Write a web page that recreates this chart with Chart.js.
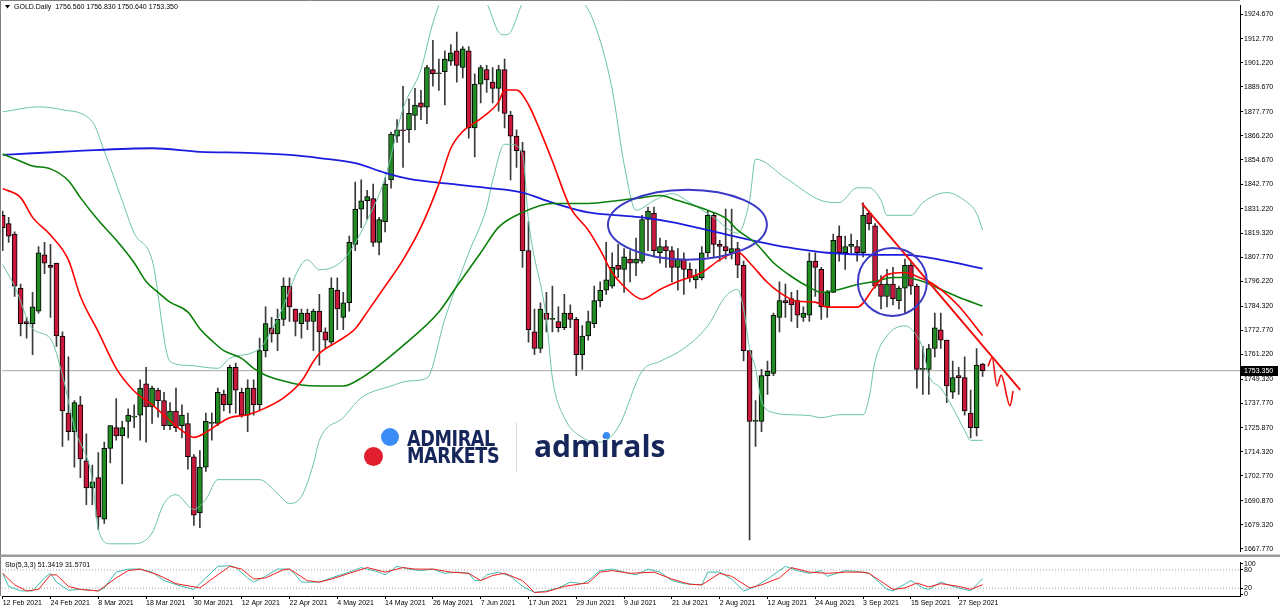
<!DOCTYPE html>
<html>
<head>
<meta charset="utf-8">
<title>GOLD.Daily</title>
<script src="https://cdn.jsdelivr.net/npm/chart.js@4.4.1/dist/chart.umd.min.js"></script>
<style>
  html, body { margin: 0; padding: 0; background: #fff; }
  #wrap { position: relative; width: 1280px; height: 611px; overflow: hidden; }
  canvas { position: absolute; left: 0; }
  #main { top: 0; }
  #sto { top: 557px; }
  .dot { position: absolute; border-radius: 50%; }
  .am { position: absolute; left: 407px; top: 430px; font-family: "DejaVu Sans"; font-weight: bold; font-size: 22px;
        line-height: 17px; color: #17265a; letter-spacing: -0.5px; transform: scaleX(0.8); transform-origin: 0 0; }
  .adm { position: absolute; left: 534px; top: 425px; font-family: "Open Sans"; font-weight: 700; font-size: 30px;
         line-height: normal; color: #17265a; }
  .divider { position: absolute; left: 516px; top: 422px; width: 1px; height: 50px; background: #dcdcdc; }
</style>
</head>
<body>
<div id="wrap">
  <canvas id="main" width="1280" height="557"></canvas>
  <canvas id="sto" width="1280" height="54"></canvas>
  <span class="dot" style="left:381px;top:428px;width:18px;height:18px;background:#3b8cf6"></span>
  <span class="dot" style="left:364px;top:447px;width:19px;height:19px;background:#e01e2d"></span>
  <div class="am">ADMIRAL<br>MARKETS</div>
  <div class="divider"></div>
  <div class="adm">admirals</div>
  <span class="dot" style="left:603px;top:432px;width:7px;height:7px;background:#3b8cf6"></span>
</div>
<script>
// x axis labels, one every 8 daily bars starting at bar 0
var dateLabels = ["12 Feb 2021", "24 Feb 2021", "8 Mar 2021", "18 Mar 2021", "30 Mar 2021", "12 Apr 2021",
  "22 Apr 2021", "4 May 2021", "14 May 2021", "26 May 2021", "7 Jun 2021", "17 Jun 2021", "29 Jun 2021",
  "9 Jul 2021", "21 Jul 2021", "2 Aug 2021", "12 Aug 2021", "24 Aug 2021", "3 Sep 2021", "15 Sep 2021", "27 Sep 2021"];
var barsPerLabel = 8;

// right axis price labels
var priceTicks = [1924.67, 1912.77, 1901.22, 1889.67, 1877.77, 1866.22, 1854.67, 1842.77, 1831.22, 1819.32,
  1807.77, 1796.22, 1784.32, 1772.77, 1761.22, 1749.32, 1737.77, 1725.87, 1714.32, 1702.77, 1690.87, 1679.32, 1667.77];
var stochTicks = [0, 20, 80, 100];
var stochLevels = [20, 80];

// daily candles, 12 Feb 2021 .. 1 Oct 2021
var opens = [1828, 1824, 1819, 1793, 1777, 1776, 1782, 1809, 1804, 1805,
  1770, 1733, 1724, 1737, 1710, 1697, 1702, 1682, 1716, 1726,
  1722, 1729, 1731, 1732, 1747, 1736, 1744, 1739, 1727, 1734,
  1727, 1728, 1712, 1685, 1707, 1728, 1728, 1742, 1737, 1755,
  1743, 1732, 1745, 1737, 1763, 1774, 1771, 1778, 1794, 1783,
  1776, 1781, 1777, 1782, 1772, 1767, 1792, 1779, 1786, 1814,
  1831, 1835, 1836, 1815, 1825, 1845, 1866, 1869, 1869, 1876,
  1882, 1880, 1898, 1896, 1897, 1902, 1907, 1899, 1907, 1870,
  1891, 1898, 1892, 1889, 1898, 1876, 1866, 1859, 1811, 1772,
  1764, 1781, 1778, 1777, 1774, 1781, 1778, 1761, 1770, 1776,
  1787, 1792, 1794, 1804, 1802, 1807, 1805, 1806, 1826, 1829,
  1810, 1813, 1811, 1803, 1807, 1802, 1797, 1798, 1810, 1828,
  1814, 1813, 1810, 1812, 1804, 1763, 1729, 1729, 1751, 1752,
  1779, 1787, 1788, 1787, 1779, 1780, 1806, 1802, 1784, 1791,
  1818, 1810, 1813, 1813, 1810, 1829, 1823, 1795, 1789, 1795,
  1787, 1793, 1804, 1794, 1754, 1754, 1764, 1773, 1768, 1743,
  1751, 1750, 1733, 1726, 1756.56];
var highs = [1830, 1827, 1820, 1795, 1779, 1791, 1813, 1815, 1814, 1805,
  1772, 1760, 1739, 1741, 1723, 1708, 1714, 1719, 1727, 1740,
  1729, 1735, 1737, 1749, 1755, 1746, 1745, 1743, 1738, 1745,
  1737, 1733, 1713, 1715, 1733, 1733, 1745, 1744, 1756, 1757,
  1745, 1749, 1749, 1769, 1784, 1779, 1783, 1798, 1798, 1783,
  1783, 1783, 1783, 1790, 1774, 1798, 1798, 1791, 1818, 1844,
  1845, 1840, 1843, 1827, 1846, 1868, 1874, 1890, 1884, 1889,
  1888, 1900, 1912, 1903, 1907, 1910, 1916, 1909, 1909, 1896,
  1900, 1900, 1899, 1900, 1903, 1878, 1869, 1863, 1825, 1783,
  1786, 1791, 1794, 1784, 1790, 1785, 1779, 1775, 1782, 1794,
  1796, 1815, 1810, 1814, 1812, 1811, 1817, 1828, 1832, 1832,
  1817, 1816, 1813, 1812, 1810, 1805, 1802, 1813, 1830, 1829,
  1816, 1831, 1831, 1815, 1806, 1763, 1739, 1754, 1758, 1781,
  1796, 1795, 1791, 1792, 1784, 1810, 1810, 1803, 1792, 1819,
  1823, 1818, 1819, 1816, 1834, 1830, 1824, 1799, 1802, 1803,
  1794, 1807, 1806, 1795, 1765, 1766, 1781, 1781, 1768, 1758,
  1755, 1760, 1744, 1764, 1756.83];
var lows = [1811, 1815, 1789, 1770, 1769, 1761, 1781, 1800, 1779, 1765,
  1717, 1720, 1707, 1702, 1689, 1689, 1677, 1680, 1709, 1720,
  1699, 1721, 1726, 1720, 1719, 1728, 1731, 1725, 1725, 1724,
  1721, 1706, 1679, 1678, 1705, 1720, 1727, 1734, 1733, 1733,
  1731, 1724, 1732, 1734, 1760, 1767, 1763, 1775, 1777, 1770,
  1769, 1773, 1763, 1756, 1764, 1766, 1773, 1773, 1782, 1811,
  1822, 1826, 1813, 1809, 1820, 1841, 1863, 1851, 1863, 1869,
  1874, 1872, 1890, 1888, 1881, 1900, 1892, 1894, 1865, 1856,
  1882, 1887, 1882, 1878, 1870, 1845, 1851, 1803, 1767, 1761,
  1762, 1772, 1772, 1772, 1773, 1774, 1751, 1754, 1768, 1774,
  1784, 1790, 1793, 1798, 1791, 1796, 1799, 1805, 1811, 1808,
  1805, 1803, 1796, 1792, 1790, 1796, 1793, 1797, 1808, 1808,
  1806, 1807, 1807, 1798, 1758, 1672, 1717, 1724, 1742, 1751,
  1772, 1779, 1777, 1774, 1777, 1777, 1789, 1778, 1779, 1791,
  1806, 1802, 1810, 1806, 1808, 1821, 1793, 1783, 1784, 1785,
  1783, 1781, 1790, 1745, 1742, 1742, 1760, 1764, 1738, 1740,
  1742, 1732, 1721, 1722, 1750.64];
var closes = [1822, 1818, 1794, 1776, 1776, 1784, 1810, 1805, 1803, 1770,
  1734, 1724, 1738, 1711, 1697, 1700, 1683, 1716, 1727, 1722,
  1726, 1732, 1731.5, 1745, 1736, 1745, 1739, 1727, 1734, 1726,
  1732, 1712, 1684, 1707, 1729, 1728.5, 1743, 1737, 1755, 1744,
  1732, 1745, 1737, 1763, 1776, 1771, 1778, 1794, 1784, 1777,
  1781, 1777, 1782, 1772, 1768, 1793, 1783, 1786, 1815, 1831,
  1835, 1837, 1815, 1826, 1843, 1867, 1869, 1868.5, 1877, 1881,
  1880, 1899, 1896, 1896.5, 1903, 1906, 1900, 1908, 1870, 1891,
  1899, 1893, 1889, 1898, 1877, 1866, 1859, 1811, 1773, 1764,
  1783, 1778, 1778.5, 1774, 1781, 1778, 1761, 1770, 1777, 1787,
  1792, 1797, 1803, 1802, 1808, 1805, 1807, 1826, 1830, 1811,
  1813, 1811, 1803, 1807, 1802, 1798, 1799, 1810, 1828, 1814,
  1813, 1811, 1812, 1804, 1763, 1729, 1729.5, 1751, 1753, 1780,
  1787, 1786, 1785, 1780, 1781, 1806, 1803, 1784, 1791, 1816,
  1810, 1813, 1814, 1810, 1828, 1824, 1794, 1789, 1795, 1788,
  1793, 1804, 1794, 1754, 1754.5, 1764, 1774, 1768, 1746, 1750,
  1750, 1734, 1726, 1756, 1753.35];

// indicator lines as [bar, value]
var ma20 = [[0, 1840.8], [3, 1836.5], [5, 1827], [8, 1818.5], [11, 1806.6], [13, 1789.1], [16, 1772], [19, 1754.5],
  [22, 1743.6], [25, 1737], [28, 1729.4], [30, 1724.6], [32, 1721.3], [34, 1723.7], [36, 1727.5], [38, 1730.8],
  [41, 1732.2], [44, 1735.5], [47, 1740.3], [50, 1748.3], [52, 1757.8], [53, 1761.6], [56, 1767.3], [59, 1773.5],
  [61, 1781.5], [64, 1793.9], [67, 1806.6], [70, 1822.3], [73, 1843.1], [75, 1860.2], [77, 1868.3], [80, 1874.4],
  [83, 1882.5], [84, 1888.2], [86, 1888.2], [88, 1881.1], [90, 1868.3], [92, 1854], [95, 1831.8], [98, 1820.9],
  [100, 1811.4], [102, 1800.5], [104, 1793.8], [107, 1787.7], [110, 1792.4], [113, 1796.2], [117, 1800.5],
  [120, 1806.6], [123, 1810.4], [125, 1805.2], [128, 1795.7], [130, 1791], [133, 1786.7], [136, 1786.3],
  [138, 1783.9], [143, 1783.9], [146, 1793.9], [148, 1799.5], [151, 1800.5], [153, 1798.6], [155, 1796.2],
  [157, 1792.4], [160, 1784.4], [164, 1770.2]];
var ma50 = [[0, 1857.4], [3, 1854], [5, 1851.7], [8, 1850.3], [11, 1844.6], [13, 1836.5], [16, 1825.6], [19, 1816.1],
  [22, 1805.2], [24, 1796.2], [26, 1791], [28, 1786.3], [31, 1781.5], [33, 1773.5], [35, 1767.8], [37, 1763],
  [40, 1759.3], [42, 1754.5], [44, 1751.2], [47, 1748.4], [50, 1746.5], [53, 1746], [57, 1746], [60, 1749.8],
  [67, 1765.4], [73, 1781.5], [76, 1793.9], [80, 1810], [83, 1822.3], [87, 1829.4], [92, 1833.7], [98, 1833.7],
  [103, 1835.1], [107, 1836.5], [110, 1837.5], [113, 1835.1], [118, 1830.4], [121, 1826.6], [123, 1820.9],
  [126, 1814.7], [129, 1805.2], [132, 1798.6], [135, 1793.4], [137, 1791], [140, 1792.4], [143, 1794.8],
  [146, 1796.2], [149, 1798.1], [151, 1798.1], [154, 1796.2], [157, 1792.4], [160, 1788.6], [164, 1784.4]];
var ma200 = [[0, 1857], [5, 1857.8], [12, 1858.8], [25, 1860.2], [33, 1858.5], [41, 1858], [48, 1857], [53, 1855.5],
  [59, 1853.1], [64, 1848.4], [68, 1845.5], [75, 1843.1], [81, 1841.2], [87, 1838.9], [92, 1834.1], [98, 1829.4],
  [103, 1828], [107, 1827], [112, 1824.7], [118, 1820.9], [123, 1817.5], [129, 1813.8], [132, 1812.3], [138, 1810],
  [146, 1809], [151, 1809], [157, 1806.6], [164, 1802.4]];
var bbUpper = [[0, 1877.7], [6, 1880.1], [10, 1878.7], [15, 1873], [17, 1858.8], [20, 1835.1], [22, 1819.4],
  [25, 1806.6], [28, 1757.8], [31, 1755.9], [36, 1754.5], [38, 1759.3], [43, 1764], [46, 1778.2], [51, 1806.6],
  [53, 1801.9], [57, 1806.6], [61, 1825.6], [64, 1846], [67, 1879.2], [70, 1898.1], [72, 1920.4], [74, 1935],
  [78, 1942], [81, 1930], [83, 1916], [84, 1914.7], [85, 1916], [87, 1930], [92, 1945], [96, 1935], [99, 1920.4],
  [102, 1888.6], [104, 1852.6], [106, 1830.4], [109, 1835.1], [112, 1838.4], [115, 1834.1], [119, 1827],
  [123, 1819.4], [125, 1835.1], [126, 1855], [131, 1846], [137, 1835.1], [140, 1834.1], [143, 1841.2],
  [145, 1841.2], [147, 1835.1], [148, 1828], [152, 1828], [154, 1834.1], [158, 1838.9], [161, 1835.1],
  [163, 1828.9], [164, 1820.9]];
var bbLower = [[0, 1804.3], [2, 1793.9], [5, 1773.5], [8, 1768.7], [10, 1751.2], [12, 1726.1], [15, 1701],
  [16, 1677.3], [18, 1670.2], [22, 1670.2], [25, 1675.4], [27, 1689.6], [29, 1693.8], [32, 1686.7], [34, 1691.5],
  [36, 1701], [43, 1701], [46, 1694.3], [48, 1689.6], [50, 1692.9], [52, 1708.5], [53, 1719.9], [57, 1730.8],
  [60, 1740.3], [65, 1746], [68, 1748.4], [71, 1749.8], [74, 1778.2], [78, 1810], [81, 1831.8], [82, 1844.6],
  [84, 1862.1], [85, 1862.1], [87, 1857.4], [88, 1825.6], [91, 1778.2], [92, 1749.8], [94, 1730.8], [97, 1721.3],
  [100, 1719], [103, 1726.1], [107, 1753.1], [110, 1757.8], [114, 1764], [118, 1774.9], [121, 1789.1],
  [123, 1792.4], [124, 1783], [125, 1764], [126, 1754.5], [127, 1738.9], [129, 1733.2], [132, 1732.2],
  [135, 1731.8], [137, 1730.8], [140, 1732.2], [144, 1732.2], [145, 1740.3], [146, 1757.8], [148, 1770.1],
  [151, 1774.9], [152, 1773.5], [154, 1764], [155, 1751.2], [157, 1745], [159, 1735.6], [161, 1724.6],
  [162, 1719.9], [164, 1719.9]];

// Stochastic(5,3,3) main and signal lines as [bar, value]
var stochK = [[0, 69], [1, 26], [3, 11], [5, 11], [7, 54], [8, 69], [9, 40], [11, 13], [13, 16], [16, 11], [17, 21],
  [19, 73], [21, 83], [23, 83], [25, 73], [27, 45], [30, 26], [32, 16], [34, 54], [36, 92], [38, 94], [39, 88],
  [41, 54], [42, 40], [44, 59], [46, 83], [48, 83], [49, 64], [50, 40], [53, 40], [55, 54], [58, 73], [60, 88],
  [63, 73], [64, 64], [66, 92], [68, 83], [70, 78], [72, 83], [74, 69], [76, 73], [78, 69], [79, 45], [80, 45],
  [81, 64], [83, 73], [85, 59], [87, 26], [89, 6], [91, 11], [93, 21], [95, 40], [97, 35], [98, 45], [100, 78],
  [102, 83], [104, 73], [106, 64], [108, 83], [110, 73], [112, 45], [114, 35], [117, 31], [118, 73], [120, 73],
  [122, 50], [124, 11], [126, 26], [128, 50], [131, 92], [133, 78], [135, 69], [137, 78], [138, 59], [141, 78],
  [143, 75], [145, 69], [148, 16], [149, 11], [152, 45], [154, 21], [155, 16], [157, 40], [159, 26], [162, 11],
  [164, 51.3419]];
var stochD = [[0, 69], [2, 31], [4, 11], [6, 16], [8, 64], [9, 64], [11, 26], [13, 16], [16, 11], [19, 54], [21, 78],
  [23, 83], [26, 64], [29, 35], [33, 21], [36, 64], [38, 92], [40, 83], [42, 50], [44, 54], [47, 81], [48, 83],
  [51, 45], [53, 40], [55, 50], [58, 69], [61, 88], [64, 73], [67, 88], [69, 83], [72, 83], [75, 73], [78, 69],
  [80, 45], [82, 62], [84, 69], [87, 45], [89, 6], [91, 8], [94, 26], [97, 35], [98, 37], [100, 73], [102, 78],
  [105, 69], [109, 73], [112, 50], [115, 33], [117, 31], [120, 69], [122, 59], [125, 21], [127, 31], [130, 54],
  [132, 88], [135, 73], [138, 69], [141, 73], [144, 73], [145, 69], [149, 16], [151, 21], [153, 37], [155, 24],
  [157, 35], [160, 26], [162, 16], [164, 31.5701]];

// hand drawn marks on the chart, in bar / price units
var trendLine = [[143.8, 1833.7], [170.3, 1744.1]];
var zigzag = [[164.9, 1755.4], [165.6, 1759.7], [166.4, 1746], [167.1, 1751.2], [168.6, 1736.5], [169.1, 1743.6]];
var ellipses = [[114.6, 1823.5, 13.3, 16.8], [148.9, 1796.0, 5.77, 16.35]]; // bar, price, radius in bars, radius in price

var symbolTitle = "GOLD.Daily";
var stochTitle = "Sto(5,3,3)";

var GREEN = "#238b23";
var RED = "#c8193c";
var FONT = "Liberation Sans";
var X_MIN = -0.117, X_MAX = 207.08;

function toPoints(pairs) {
  return pairs.map(function (p) { return { x: p[0], y: p[1] }; });
}

var lastBar = opens.length - 1;
var lastClose = closes[lastBar];
var barIdx = opens.map(function (o, i) { return i; });
var wickData = barIdx.map(function (i) { return { x: i, y: [lows[i], highs[i]] }; });
var bodyData = barIdx.map(function (i) { return { x: i, y: [opens[i], closes[i]] }; });
var bodyColors = barIdx.map(function (i) { return closes[i] >= opens[i] ? GREEN : RED; });

function lineSet(data, color, width, order) {
  return {
    type: "line", data: toPoints(data), borderColor: color, borderWidth: width,
    pointRadius: 0, cubicInterpolationMode: "monotone", order: order
  };
}

function fixWidth(w) {
  return function (scale) { scale.width = w; };
}

// labels, price box, ellipses and frame for the main panel
var mainOverlay = {
  id: "mainOverlay",
  afterDatasetsDraw: function (chart) {
    var ctx = chart.ctx, xs = chart.scales.x, ys = chart.scales.y, area = chart.chartArea;
    ctx.save();
    ctx.beginPath();
    ctx.rect(area.left, area.top, area.right - area.left, area.bottom - area.top);
    ctx.clip();
    ctx.strokeStyle = "#3a3ac4";
    ctx.lineWidth = 2;
    ellipses.forEach(function (e) {
      var cx = xs.getPixelForValue(e[0]), cy = ys.getPixelForValue(e[1]);
      var rx = xs.getPixelForValue(e[0] + e[2]) - cx, ry = cy - ys.getPixelForValue(e[1] + e[3]);
      ctx.beginPath();
      ctx.ellipse(cx, cy, rx, ry, 0, 0, Math.PI * 2);
      ctx.stroke();
    });
    ctx.restore();
  },
  afterDraw: function (chart) {
    var ctx = chart.ctx, ys = chart.scales.y, area = chart.chartArea;
    ctx.save();
    // frame
    ctx.strokeStyle = "#808080";
    ctx.lineWidth = 1;
    ctx.beginPath();
    ctx.moveTo(0.5, 557); ctx.lineTo(0.5, 0.5); ctx.lineTo(area.right, 0.5);
    ctx.stroke();
    ctx.fillStyle = "#9a9a9a";
    ctx.fillRect(0, 554.5, 1280, 2.5);
    // last price box
    var y = Math.round(ys.getPixelForValue(lastClose));
    ctx.fillStyle = "#000";
    ctx.fillRect(area.right + 1, y - 5, 37, 10);
    ctx.fillStyle = "#fff";
    ctx.font = "7px '" + FONT + "'";
    ctx.textBaseline = "middle";
    ctx.fillText(lastClose.toFixed(3), area.right + 4, y + 0.5);
    // header
    ctx.fillStyle = "#000";
    ctx.beginPath();
    ctx.moveTo(5, 5); ctx.lineTo(10, 5); ctx.lineTo(7.5, 8.5); ctx.closePath();
    ctx.fill();
    ctx.fillText(symbolTitle + "  " + [opens[lastBar], highs[lastBar], lows[lastBar], closes[lastBar]]
      .map(function (v) { return v.toFixed(3); }).join(" "), 14, 7.5);
    ctx.restore();
  }
};

new Chart(document.getElementById("main"), {
  type: "bar",
  data: {
    datasets: [
      lineSet(bbUpper, "#6cc4a4", 1, 5),
      lineSet(bbLower, "#6cc4a4", 1, 5),
      lineSet(ma200, "#1c1ce0", 1.8, 4),
      lineSet(ma50, "#0a800a", 1.6, 3),
      lineSet(ma20, "#ff0000", 1.6, 2),
      {
        type: "line", data: [{ x: X_MIN - 1, y: lastClose }, { x: X_MAX + 1, y: lastClose }],
        borderColor: "#a8a8a8", borderWidth: 1, pointRadius: 0, order: 20
      },
      lineSet(trendLine, "#f01010", 2, 1),
      lineSet(zigzag, "#f01010", 1.6, 1),
      {
        data: bodyData, backgroundColor: bodyColors, borderColor: "#000", borderWidth: 1,
        borderSkipped: false, barThickness: 5, minBarLength: 1, grouped: false, order: 10
      },
      {
        data: wickData, backgroundColor: "#3a3a3a", borderWidth: 0,
        barThickness: 1, grouped: false, order: 11
      }
    ]
  },
  options: {
    responsive: false,
    animation: false,
    events: [],
    layout: { padding: { left: 2, top: 2, bottom: 1, right: 0 } },
    plugins: { legend: { display: false }, tooltip: { enabled: false } },
    scales: {
      x: { type: "linear", display: false, offset: false, min: X_MIN, max: X_MAX },
      y: {
        position: "right", min: 1666.35, max: 1928.93,
        afterFit: fixWidth(40),
        afterBuildTicks: function (scale) {
          scale.ticks = priceTicks.map(function (v) { return { value: v }; });
        },
        ticks: {
          callback: function (v) { return Number(v).toFixed(3); },
          font: { family: FONT, size: 7 }, color: "#000", padding: 1, autoSkip: false
        },
        grid: { drawOnChartArea: false, drawTicks: true, tickLength: 3, color: "#000" },
        border: { display: true, color: "#000", width: 1 }
      }
    }
  },
  plugins: [mainOverlay]
});

// stochastic panel title and frame
var stoOverlay = {
  id: "stoOverlay",
  afterDraw: function (chart) {
    var ctx = chart.ctx;
    ctx.save();
    ctx.fillStyle = "#000";
    ctx.font = "7px '" + FONT + "'";
    ctx.textBaseline = "middle";
    var k = stochK[stochK.length - 1][1], d = stochD[stochD.length - 1][1];
    ctx.fillText(stochTitle + " " + k.toFixed(4) + " " + d.toFixed(4), 5, 8.5);
    ctx.strokeStyle = "#808080";
    ctx.beginPath();
    ctx.moveTo(0.5, 0); ctx.lineTo(0.5, chart.chartArea.bottom);
    ctx.stroke();
    ctx.restore();
  }
};

var levelSets = stochLevels.map(function (lv) {
  return {
    data: [{ x: X_MIN - 1, y: lv }, { x: X_MAX + 1, y: lv }], borderColor: "#a0a0a0", borderWidth: 1,
    borderDash: [1, 2], pointRadius: 0, order: 5
  };
});

new Chart(document.getElementById("sto"), {
  type: "line",
  data: {
    datasets: levelSets.concat([
      { data: toPoints(stochK), borderColor: "#3cbcb0", borderWidth: 1, pointRadius: 0, order: 2 },
      { data: toPoints(stochD), borderColor: "#f01e1e", borderWidth: 1, pointRadius: 0, order: 1 }
    ])
  },
  options: {
    responsive: false,
    animation: false,
    events: [],
    layout: { padding: { left: 2, top: 1, bottom: 0, right: 0 } },
    plugins: { legend: { display: false }, tooltip: { enabled: false } },
    scales: {
      x: {
        type: "linear", min: X_MIN, max: X_MAX,
        afterFit: function (scale) { scale.height = 15; },
        afterBuildTicks: function (scale) {
          scale.ticks = dateLabels.map(function (l, i) { return { value: i * barsPerLabel }; });
        },
        ticks: {
          callback: function (v, i) { return dateLabels[i]; },
          align: "start", autoSkip: false, maxRotation: 0, padding: 0,
          font: { family: FONT, size: 7 }, color: "#000"
        },
        grid: { drawOnChartArea: false, drawTicks: true, tickLength: 3, color: "#000" },
        border: { display: true, color: "#000", width: 1 }
      },
      y: {
        position: "right", min: -5.7, max: 105.7,
        afterFit: fixWidth(40),
        afterBuildTicks: function (scale) {
          scale.ticks = stochTicks.map(function (v) { return { value: v }; });
        },
        ticks: { font: { family: FONT, size: 7 }, color: "#000", padding: 1, autoSkip: false },
        grid: { drawOnChartArea: false, drawTicks: true, tickLength: 3, color: "#000" },
        border: { display: true, color: "#000", width: 1 }
      }
    }
  },
  plugins: [stoOverlay]
});
</script>
</body>
</html>
